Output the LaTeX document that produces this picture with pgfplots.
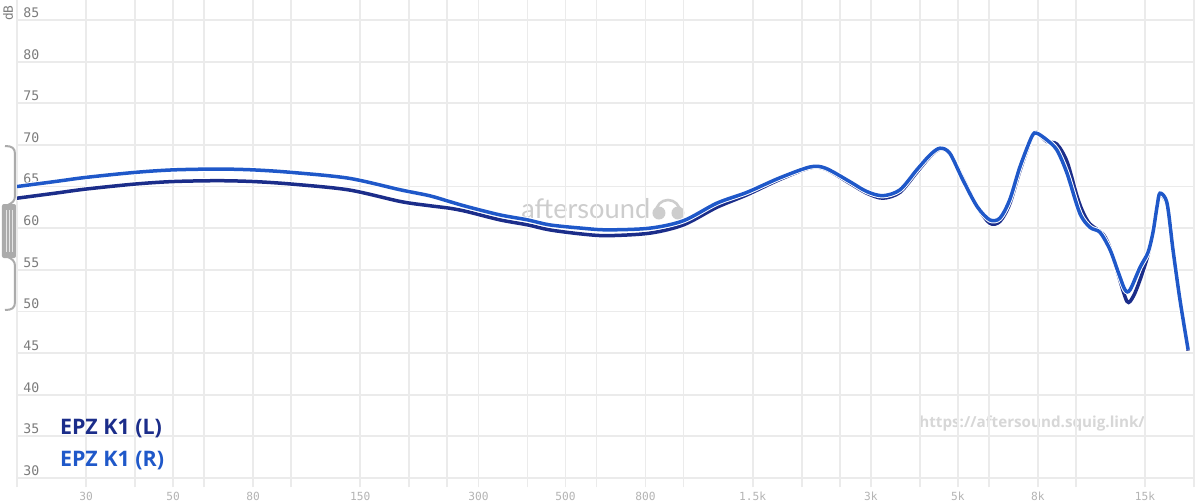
\documentclass[border=0pt]{standalone}
\usepackage{pgfplots}
\usepackage{pgfplotstable}
\pgfplotsset{compat=1.18}
\usepackage{fontspec}
\setmainfont{Open Sans}
\newfontfamily\monofont{DejaVu Sans Mono}
\newfontfamily\latofont{Lato}

\definecolor{cL}{HTML}{1B2D8A}
\definecolor{cR}{HTML}{1F58C9}
\definecolor{gridc}{HTML}{EBEBEB}
\definecolor{ylab}{HTML}{7C7C7C}
\definecolor{xlab}{HTML}{B4B4B4}
\definecolor{wm}{HTML}{CDCDCD}
\definecolor{widget}{HTML}{ABABAB}

% frequency response, left channel
\pgfplotstableread{
f db
20 63.6
25 64.2
30 64.7
40 65.3
50 65.6
65 65.7
80 65.6
100 65.3
140 64.6
190 63.2
225 62.7
253 62.4
280 62.0
340 61.0
400 60.4
455 59.8
550 59.3
640 59.1
820 59.4
1000 60.4
1215 62.5
1450 64.0
1750 65.8
2100 67.25
2300 67.1
2650 65.4
2930 64.2
3220 63.6
3560 64.3
3930 66.7
4250 68.6
4500 69.5
4770 69.0
5150 66.0
5600 62.6
6030 60.6
6400 60.8
6780 62.9
7200 66.9
7720 70.9
7950 71.5
8430 70.4
8940 70.1
9490 68.0
10070 63.8
10430 61.9
10860 60.5
11720 59.3
12220 57.6
12800 54.5
13500 51.2
14000 51.8
14570 53.8
15270 56.8
15720 59.5
16100 62.6
16380 64.0
17070 62.8
17680 57.2
18420 51.2
19320 45.3
}\chanL

% frequency response, right channel
\pgfplotstableread{
f db
20 65.0
25 65.6
30 66.1
40 66.7
50 67.0
65 67.1
80 67.0
100 66.7
140 66.0
190 64.6
225 63.9
253 63.2
280 62.6
340 61.6
400 61.0
455 60.4
550 60.0
640 59.8
820 60.0
1000 60.9
1215 63.0
1450 64.3
1750 66.0
2100 67.35
2300 67.2
2650 65.6
2930 64.4
3220 63.9
3560 64.6
3930 67.0
4250 68.8
4500 69.6
4770 69.0
5150 65.8
5600 62.6
6030 61.0
6400 61.2
6780 63.4
7200 67.35
7720 71.0
7950 71.4
8430 70.6
8940 69.4
9490 66.6
10230 61.8
10860 60.1
11520 59.5
12220 57.4
12800 54.8
13340 52.6
13740 52.6
14570 55.3
15270 57.1
15720 59.5
16100 62.6
16380 64.2
17070 63.0
17680 57.4
18420 51.4
19320 45.4
}\chanR

\pgfplotsset{fr/.style={smooth, tension=0.5, mark=none, line width=1.75bp,
    preaction={draw=white, line width=2.7bp}}}

\begin{document}
\begin{tikzpicture}
\useasboundingbox (0,0) rectangle (600bp,251.5bp);
\fill[white] (0,0) rectangle (600bp,251.5bp);

% watermark behind the curves, in pixel coordinates of the 1200x503 frame
\begin{scope}[x=0.5bp, y=-0.5bp, shift={(0,-503)}]
  \node[anchor=base west, inner sep=0pt, text=wm, font=\latofont\fontsize{13.6bp}{14bp}\selectfont] at (521,218) {aftersound};
  \draw[wm, line width=1.3bp] (656,212) arc[start angle=180, end angle=360, radius=12];
  \fill[wm] (659,213) circle[radius=6.5];
  \fill[wm] (678,213) circle[radius=6.5];
  \node[anchor=base west, inner sep=0pt, text=wm!80, font=\bfseries\fontsize{7.6bp}{8bp}\selectfont] at (919,427) {https://aftersound.squig.link/};
\end{scope}

\begin{axis}[
    at={(8.5bp,8bp)}, anchor=south west,
    scale only axis, width=588.5bp, height=243.5bp,
    xmode=log, xmin=20, xmax=20000,
    ymin=28.92, ymax=87.4,
    axis line style={draw=none},
    major tick length=0pt, minor tick length=0pt,
    xtick={30,50,80,150,300,500,800,1500,3000,5000,8000,15000},
    xticklabels={30,50,80,150,300,500,800,1.5k,3k,5k,8k,15k},
    minor xtick={20,40,60,100,200,250,400,600,1000,2000,2500,4000,6000,10000,20000},
    ytick={30,35,...,85},
    xmajorgrids, xminorgrids, ymajorgrids,
    major grid style={gridc, line width=0.9bp},
    minor grid style={gridc, line width=0.9bp},
    /pgf/number format/assume math mode=true,
    xticklabel style={font=\monofont\fontsize{5.6bp}{6bp}\selectfont, text=xlab, inner sep=1bp, yshift=-1.5bp},
    yticklabel style={font=\monofont\fontsize{6.6bp}{7bp}\selectfont, text=ylab, anchor=south west, inner sep=1bp, xshift=2bp},
    legend style={at={(axis description cs:0.033,0.148)}, anchor=north west, draw=none, fill=none,
        font=\bfseries\fontsize{10.7bp}{12bp}\selectfont, row sep=3bp, inner sep=0pt},
    legend cell align=left,
    legend image code/.code={},
]
\addplot[fr, draw=cL] table[x=f, y=db] {\chanL};
\addlegendentry{\textcolor{cL}{EPZ K1 (L)}}
\addplot[fr, draw=cR] table[x=f, y=db] {\chanR};
\addlegendentry{\textcolor{cR}{EPZ K1 (R)}}
\end{axis}

\begin{scope}[x=0.5bp, y=-0.5bp, shift={(0,-503)}]
  % dB label
  \node[rotate=90, inner sep=0pt, text=ylab, font=\monofont\fontsize{6.4bp}{7bp}\selectfont] at (8,13) {dB};
  % y scale widget
  \draw[widget, line width=1bp] (5,146) .. controls (12,146) and (15,148) .. (15,154) -- (15,196)
      .. controls (15,201) and (12,203) .. (8,205);
  \draw[widget, line width=1bp] (8,257) .. controls (12,259) and (15,261) .. (15,266) -- (15,302)
      .. controls (15,308) and (12,310) .. (5,310);
  \fill[widget, rounded corners=1bp] (2,204) rectangle (16,258);
  \draw[white!70!widget, line width=0.5bp] (7,210) -- (7,252) (10,210) -- (10,252) (13,210) -- (13,252);
\end{scope}
\end{tikzpicture}
\end{document}
